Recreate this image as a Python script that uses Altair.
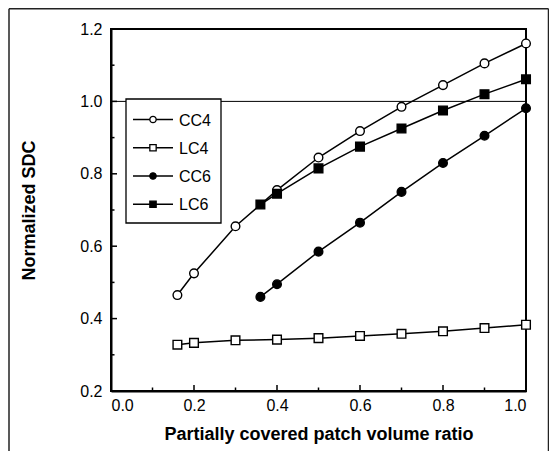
import altair as alt
import pandas as pd

# ---- data ----
cc4_x = [0.16, 0.2, 0.3, 0.4, 0.5, 0.6, 0.7, 0.8, 0.9, 1.0]
cc4_y = [0.465, 0.525, 0.655, 0.755, 0.845, 0.918, 0.985, 1.045, 1.105, 1.16]
lc4_x = [0.16, 0.2, 0.3, 0.4, 0.5, 0.6, 0.7, 0.8, 0.9, 1.0]
lc4_y = [0.328, 0.333, 0.340, 0.342, 0.346, 0.352, 0.358, 0.365, 0.374, 0.383]
cc6_x = [0.36, 0.4, 0.5, 0.6, 0.7, 0.8, 0.9, 1.0]
cc6_y = [0.460, 0.495, 0.585, 0.665, 0.750, 0.830, 0.905, 0.981]
lc6_x = [0.36, 0.4, 0.5, 0.6, 0.7, 0.8, 0.9, 1.0]
lc6_y = [0.715, 0.745, 0.815, 0.875, 0.925, 0.975, 1.020, 1.061]

series_names = ["CC4", "LC4", "CC6", "LC6"]
series_shapes = ["circle", "square", "circle", "square"]
series_fills = ["white", "white", "black", "black"]

x_major = [0.0, 0.2, 0.4, 0.6, 0.8, 1.0]
x_minor = [0.1, 0.3, 0.5, 0.7, 0.9]
y_major = [0.2, 0.4, 0.6, 0.8, 1.0, 1.2]
y_minor = [0.3, 0.5, 0.7, 0.9, 1.1]

rows = []
for name, xs, ys in [("CC4", cc4_x, cc4_y), ("LC4", lc4_x, lc4_y),
                     ("CC6", cc6_x, cc6_y), ("LC6", lc6_x, lc6_y)]:
    for a, b in zip(xs, ys):
        rows.append({"series": name, "x": a, "y": b})
df = pd.DataFrame(rows)

W, H = 415, 362
FONT = "Liberation Sans"

xs = alt.Scale(domain=[0, 1.0], nice=False, zero=False)
ys = alt.Scale(domain=[0.2, 1.2], nice=False, zero=False)

X = alt.X("x:Q", scale=xs, axis=alt.Axis(
    values=x_major, format=".1f", title="Partially covered patch volume ratio",
    tickSize=0, labelPadding=6, titlePadding=12, grid=False,
    domainColor="black", domainWidth=2))
Y = alt.Y("y:Q", scale=ys, axis=alt.Axis(
    values=y_major, format=".1f", title="Normalized SDC",
    tickSize=0, labelPadding=9, titlePadding=41, grid=False,
    domainColor="black", domainWidth=2))

one_row = pd.DataFrame({"a": [0]})

# outer frame drawn as rules
def frame_rule(**enc):
    return alt.Chart(one_row).mark_rule(color="#222", strokeWidth=1.5, clip=False).encode(**enc)

frame = [
    frame_rule(x=alt.value(-102), y=alt.value(-20.2), y2=alt.value(440)),
    frame_rule(x=alt.value(437.5), y=alt.value(-20.2), y2=alt.value(440)),
    frame_rule(y=alt.value(-20.2), x=alt.value(-102), x2=alt.value(437.5)),
]

# reference line at 1.0
ref = alt.Chart(pd.DataFrame({"y": [1.0]})).mark_rule(
    color="black", strokeWidth=1).encode(y=alt.Y("y:Q", scale=ys))

lines = alt.Chart(df).mark_line(color="black", strokeWidth=1.5).encode(
    x=X, y=Y, detail="series:N")

points = alt.Chart(df).mark_point(size=75, strokeWidth=1.4, opacity=1, color="black").encode(
    x=alt.X("x:Q", scale=xs), y=alt.Y("y:Q", scale=ys),
    shape=alt.Shape("series:N", scale=alt.Scale(domain=series_names, range=series_shapes), legend=None),
    fill=alt.Fill("series:N", scale=alt.Scale(domain=series_names, range=series_fills), legend=None),
)

# inward ticks
def xticks(vals, length):
    return alt.Chart(pd.DataFrame({"x": vals})).mark_rule(color="black", strokeWidth=1.5).encode(
        x=alt.X("x:Q", scale=xs), y=alt.value(H), y2=alt.value(H - length))

def yticks(vals, length):
    return alt.Chart(pd.DataFrame({"y": vals})).mark_rule(color="black", strokeWidth=1.5).encode(
        y=alt.Y("y:Q", scale=ys), x=alt.value(0), x2=alt.value(length))

ticks = [xticks(x_major, 6), xticks(x_minor, 3.5), yticks(y_major, 6), yticks(y_minor, 3.5)]

# hand-made legend
leg_box = alt.Chart(one_row).mark_rect(
    fill="white", stroke="black", strokeWidth=1.3
).encode(x=alt.value(15), x2=alt.value(110), y=alt.value(70), y2=alt.value(194))

leg_layers = [leg_box]
leg_y = [90.5, 118.7, 147, 175.3]
for name, shp, fil, ly in zip(series_names, series_shapes, series_fills, leg_y):
    one = pd.DataFrame({"label": [name]})
    leg_layers.append(alt.Chart(one).mark_rule(color="black", strokeWidth=1.5).encode(
        x=alt.value(22), x2=alt.value(62), y=alt.value(ly)))
    leg_layers.append(alt.Chart(one).mark_point(
        shape=shp, fill=fil, color="black", size=40, strokeWidth=1.3, opacity=1
    ).encode(x=alt.value(42), y=alt.value(ly)))
    leg_layers.append(alt.Chart(one).mark_text(
        align="left", baseline="middle", font=FONT, fontSize=16, color="black"
    ).encode(x=alt.value(68), y=alt.value(ly + 1), text="label:N"))

chart = alt.layer(*frame, ref, lines, points, *ticks, *leg_layers).properties(
    width=W, height=H,
    padding={"left": 103, "top": 21, "right": 23, "bottom": 60},
    autosize=alt.AutoSizeParams(type="none"),
    background="white",
).configure_view(stroke="black", strokeWidth=2).configure_axis(
    labelFont=FONT, titleFont=FONT, labelFontSize=16, titleFontSize=18,
    labelColor="black", titleColor="black", titleFontWeight="bold",
)

chart.save("out.html", embed_options={"renderer": "svg", "actions": False})
